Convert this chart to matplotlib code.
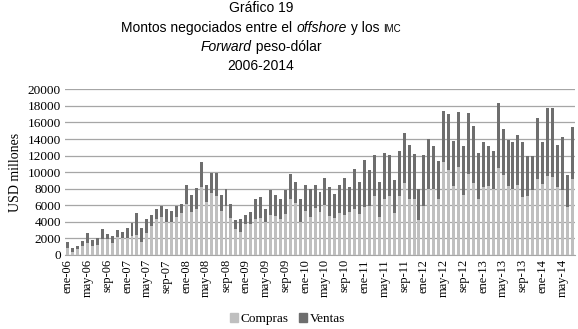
import matplotlib
matplotlib.use("Agg")
import matplotlib.pyplot as plt
from matplotlib.patches import Patch

# meses ene-06 .. jul-14
meses_abr = ["ene", "feb", "mar", "abr", "may", "jun", "jul", "ago", "sep", "oct", "nov", "dic"]
meses = ["%s-%02d" % (m, a) for a in range(6, 15) for m in meses_abr][:103]

# totales (USD millones) y compras
total = [1600, 800, 1100, 1700, 2700, 1800, 2000, 3100, 2500, 2300, 3000, 2800,
         3200, 3900, 5100, 3200, 4300, 4800, 5500, 5900, 5600, 5300, 5900, 6200,
         8400, 7300, 8100, 11200, 8500, 9900, 9900, 7200, 8000, 6200, 4200, 4300,
         4800, 5200, 6800, 7000, 5600, 7800, 7200, 6800, 7800, 9800, 8800, 6800,
         8400, 8000, 8400, 7600, 9300, 8200, 7400, 8500, 9300, 8200, 10400, 8800,
         11500, 10300, 12100, 8800, 12300, 12100, 9100, 12500, 14700, 13300, 12200, 8000,
         12100, 14000, 13100, 11400, 17400, 17000, 13800, 17300, 13200, 17100, 15600, 12300,
         13600, 13200, 12600, 18300, 15200, 13900, 13700, 14500, 13700, 11900, 12000, 16500,
         13700, 17700, 17800, 13300, 14300, 9700, 15500]
compras = [800, 400, 700, 1100, 1500, 1100, 1200, 1900, 1900, 1500, 2200, 2100,
           2100, 2300, 2400, 1600, 2700, 3500, 4400, 4600, 4000, 4000, 4600, 5100,
           6200, 5200, 5500, 8200, 6400, 7500, 7100, 5300, 5900, 4500, 3100, 2800,
           3800, 3800, 4300, 4500, 4000, 4800, 4700, 4400, 4900, 6800, 6300, 4000,
           5300, 4600, 5700, 5200, 6000, 4700, 4500, 5100, 4800, 5200, 5600, 4900,
           5800, 5900, 7100, 4600, 6800, 7100, 5100, 7100, 8700, 6700, 6800, 4200,
           5900, 8000, 8000, 6700, 11200, 10300, 8300, 10600, 7300, 9800, 8700, 6800,
           8200, 8300, 8000, 10500, 9700, 8300, 8000, 8500, 7000, 7100, 7800, 9200,
           8600, 9500, 9400, 8200, 7800, 5800, 9200]
ventas = [t - c for t, c in zip(total, compras)]

c_compras = "#bfbfbf"
c_ventas = "#6e6e6e"
serif = "Liberation Serif"
sans = "Liberation Sans"

fig = plt.figure(figsize=(5.78, 3.29), dpi=100)
ax = fig.add_axes([0.1128, 0.225, 0.8817, 0.5035])

x = list(range(len(meses)))
ax.bar(x, compras, width=0.6, color=c_compras, zorder=3)
ax.bar(x, ventas, bottom=compras, width=0.6, color=c_ventas, zorder=3)

ax.set_xlim(-0.5, len(meses) - 0.5)
ax.set_ylim(0, 20000)
ax.set_yticks(range(0, 20001, 2000))
ax.yaxis.grid(True, color="#a6a6a6", lw=0.9, zorder=0)
ax.set_axisbelow(True)
for s in ["top", "right", "left"]:
    ax.spines[s].set_visible(False)
ax.spines["bottom"].set_color("#a6a6a6")
ax.tick_params(axis="both", length=0, pad=3)
ax.set_xticks(x[::4])
ax.set_xticklabels(meses[::4], rotation=90, fontfamily=serif, fontsize=9)
for lab in ax.get_yticklabels():
    lab.set_fontfamily(serif)
    lab.set_fontsize(9.5)
ax.set_ylabel("USD millones", fontfamily=serif, fontsize=10, labelpad=4)

# leyenda
handles = [Patch(color=c_compras, label="Compras"), Patch(color=c_ventas, label="Ventas")]
fig.legend(handles=handles, loc="center", bbox_to_anchor=(0.497, 0.03), ncol=2, frameon=False,
           handlelength=0.6, handleheight=0.6, handletextpad=0.2, columnspacing=0.8,
           prop={"family": serif, "size": 9.5})

# titulo en varios trozos (cursiva y versalitas), alineados en la linea base
renderer = fig.canvas.get_renderer()
centro_titulo = 261  # px


def linea(y, trozos, size=10):
    textos = []
    ancho = 0
    for txt, estilo, tam in trozos:
        t = fig.text(0, y, txt, fontfamily=sans, fontsize=tam or size, style=estilo,
                     va="baseline", ha="left")
        w = t.get_window_extent(renderer).width
        textos.append((t, w))
        ancho += w
    x0 = centro_titulo - ancho / 2
    for t, w in textos:
        t.set_x(x0 / fig.bbox.width)
        x0 += w


linea(1 - 12 / 329, [("Gráfico 19", "normal", None)])
linea(1 - 32 / 329, [("Montos negociados entre el ", "normal", None), ("offshore", "italic", None),
                     (" y los ", "normal", None), ("IMC", "normal", 7)])
linea(1 - 51 / 329, [("Forward", "italic", None), (" peso-dólar", "normal", None)])
linea(1 - 70 / 329, [("2006-2014", "normal", None)])

fig.savefig("out.png", dpi=100)
